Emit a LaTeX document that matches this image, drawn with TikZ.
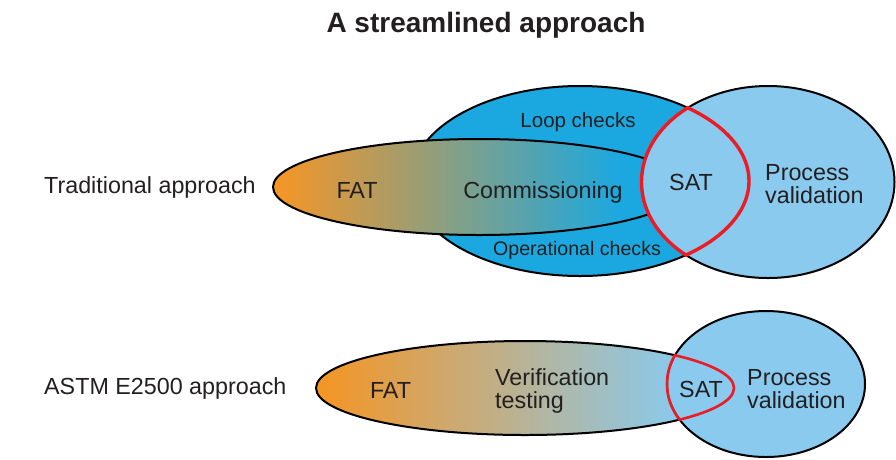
\documentclass[tikz,border=0pt]{standalone}
\usepackage{fontspec}
\setmainfont{Liberation Sans}
\definecolor{dblue}{RGB}{27,168,225}
\definecolor{lblue}{RGB}{137,202,238}
\definecolor{orng}{RGB}{243,150,40}
\definecolor{sred}{RGB}{237,28,36}
\definecolor{txt}{RGB}{35,31,32}
\begin{document}
\begin{tikzpicture}[x=1pt,y=-1pt,
  lbl/.style={inner sep=0pt, text=txt, font=\fontsize{23.3}{28}\selectfont},
  small/.style={font=\fontsize{20.5}{24}\selectfont},
  outline/.style={draw=black, line width=2pt},
  lens/.style={draw=sred, line width=3.4pt}]
\useasboundingbox (0,0) rectangle (896,459);

% title
\node[lbl, font=\bfseries\fontsize{28}{32}\selectfont, anchor=base] (title) at (486,32) {A streamlined approach};

% ---------- traditional approach ----------
\fill[dblue] (580,181) ellipse [x radius=169, y radius=95];
\draw[outline] (580,181) ellipse [x radius=169, y radius=95];

\begin{scope}
  \clip (479,187) ellipse [x radius=206, y radius=48];
  \fill[orng] (260,130) rectangle (300,250);
  \fill[dblue] (600,130) rectangle (700,250);
  \shade[left color=orng, right color=dblue] (280,130) rectangle (620,250);
\end{scope}
\draw[outline] (479,187) ellipse [x radius=206, y radius=48];

\fill[lblue] (768,182) ellipse [x radius=126.5, y radius=96];
\draw[outline] (768,182) ellipse [x radius=126.5, y radius=96];

\begin{scope}
  \clip (768,182) ellipse [x radius=128, y radius=97.5];
  \draw[lens] (580,181) ellipse [x radius=169, y radius=95];
\end{scope}
\begin{scope}
  \clip (580,181) ellipse [x radius=170.5, y radius=96.5];
  \draw[lens] (768,182) ellipse [x radius=126.5, y radius=96];
\end{scope}

\node[lbl, anchor=base west] (trad) at (44,193) {Traditional approach};
\node[lbl, anchor=base] (fat1) at (357,198) {FAT};
\node[lbl, anchor=base] (comm) at (543,198) {Commissioning};
\node[lbl, small, anchor=base] (loop) at (578,127) {Loop checks};
\node[lbl, anchor=base, font=\fontsize{19.6}{24}\selectfont] (oper) at (577,255) {Operational checks};
\node[lbl, anchor=base] (sat1) at (691,190) {SAT};
\node[lbl, anchor=base west] (pv1a) at (765,180) {Process};
\node[lbl, anchor=base west] (pv1b) at (765,203.3) {validation};

% ---------- ASTM E2500 approach ----------
\begin{scope}
  \clip (525,388) ellipse [x radius=209, y radius=47];
  \fill[orng] (300,330) rectangle (340,450);
  \fill[lblue] (660,330) rectangle (760,450);
  \shade[left color=orng, right color=lblue] (325,330) rectangle (680,450);
\end{scope}
\draw[outline] (525,388) ellipse [x radius=209, y radius=47];

\fill[lblue] (766,384) ellipse [x radius=99, y radius=73];
\draw[outline] (766,384) ellipse [x radius=99, y radius=73];

\begin{scope}[lens/.append style={line width=2.6pt}]
  \begin{scope}
    \clip (766,384) ellipse [x radius=100.2, y radius=74.2];
    \draw[lens] (525,388) ellipse [x radius=209, y radius=47];
  \end{scope}
  \begin{scope}
    \clip (525,388) ellipse [x radius=210.2, y radius=48.2];
    \draw[lens] (766,384) ellipse [x radius=99, y radius=73];
  \end{scope}
\end{scope}

\node[lbl, anchor=base west] (astm) at (44,394) {ASTM E2500 approach};
\node[lbl, anchor=base] (fat2) at (390.5,398.3) {FAT};
\node[lbl, anchor=base west] (ver1) at (495,385) {Verification};
\node[lbl, anchor=base west] (ver2) at (495,408.3) {testing};
\node[lbl, anchor=base] (sat2) at (701,397.3) {SAT};
\node[lbl, anchor=base west] (pv2a) at (747,385) {Process};
\node[lbl, anchor=base west] (pv2b) at (747,408.3) {validation};
\end{tikzpicture}
\end{document}
